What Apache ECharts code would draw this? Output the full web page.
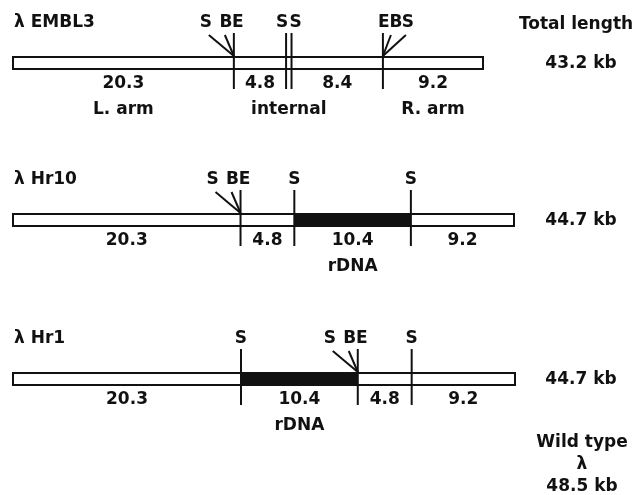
<!DOCTYPE html>
<html><head><meta charset="utf-8">
<script src="https://cdn.jsdelivr.net/npm/echarts@6/dist/echarts.min.js"></script>
<style>html,body{margin:0;padding:0;background:#fff}#c{width:636px;height:495px}</style>
</head><body><div id="c"></div>
<script>
// ---- data ----
const rowNames = ['λ EMBL3', 'λ Hr10', 'λ Hr1'];
const totalLabels = ['43.2 kb', '44.7 kb', '44.7 kb'];
const headerLabel = 'Total length';
const wildTypeLabels = ['Wild type', 'λ', '48.5 kb'];

const emblSegs = [20.3, 4.8, 0.5, 8.4, 9.2];
const hr10Segs = [20.3, 4.8, 10.4, 9.2];
const hr1Segs = [20.3, 10.4, 4.8, 9.2];

const emblKinds = ['lambda', 'lambda', 'gap', 'lambda', 'lambda'];
const hr10Kinds = ['lambda', 'lambda', 'rDNA', 'lambda'];
const hr1Kinds = ['lambda', 'rDNA', 'lambda', 'lambda'];

const emblSubLabels = ['L. arm', '', 'internal', '', 'R. arm'];
const hr10SubLabels = ['', '', 'rDNA', ''];
const hr1SubLabels = ['', 'rDNA', '', ''];

// restriction sites at each internal segment boundary
const emblSites = ['SBE', 'S', 'S', 'EBS'];
const hr10Sites = ['SBE', 'S', 'S'];
const hr1Sites = ['S', 'SBE', 'S'];

// ---- layout ----
const rowSegs = [emblSegs, hr10Segs, hr1Segs];
const rowKinds = [emblKinds, hr10Kinds, hr1Kinds];
const rowSubs = [emblSubLabels, hr10SubLabels, hr1SubLabels];
const rowSites = [emblSites, hr10Sites, hr1Sites];
const rowCY = [63, 220, 379];
const rowW = [470, 501, 502];
const LEFT = 13;
const FONT = 'DejaVu Sans';
const FS = 17;
const INK = '#111';

function txt(x, y, s, align) {
  return { type: 'text', x: x, y: y, style: { text: s, fill: INK, font: 'bold ' + FS + 'px "' + FONT + '"', align: align || 'center', verticalAlign: 'middle' } };
}

const grids = [], xAxes = [], yAxes = [], series = [];
rowSegs.forEach((segs, i) => {
  const total = segs.reduce((a, b) => a + b, 0);
  grids.push({ left: LEFT, width: rowW[i], top: rowCY[i] - 10, height: 20 });
  xAxes.push({ gridIndex: i, type: 'value', min: 0, max: total, show: false });
  yAxes.push({ gridIndex: i, type: 'value', min: -1, max: 1, show: false });
  const cum = [0];
  segs.forEach(v => cum.push(cum[cum.length - 1] + v));
  const kinds = rowKinds[i], subs = rowSubs[i];
  // segments (fills + labels)
  series.push({
    type: 'custom', xAxisIndex: i, yAxisIndex: i, z: 2,
    data: segs.map((v, j) => [cum[j], cum[j + 1], v, j]),
    renderItem: function (params, api) {
      const j = api.value(3);
      const a = api.coord([api.value(0), 0]);
      const b = api.coord([api.value(1), 0]);
      const y = a[1];
      const ch = [{ type: 'rect', shape: { x: a[0], y: y - 6, width: b[0] - a[0], height: 12 },
        style: { fill: kinds[j] === 'rDNA' ? INK : '#fff' } }];
      const mx = (a[0] + b[0]) / 2;
      if (kinds[j] !== 'gap') ch.push(txt(mx, y + 21, api.value(2).toFixed(1)));
      if (subs[j]) ch.push(txt(mx, y + 47, subs[j]));
      return { type: 'group', children: ch };
    }
  });
  // outline
  series.push({
    type: 'custom', xAxisIndex: i, yAxisIndex: i, z: 3,
    data: [[0, total]],
    renderItem: function (params, api) {
      const a = api.coord([api.value(0), 0]);
      const b = api.coord([api.value(1), 0]);
      return { type: 'rect', shape: { x: a[0], y: a[1] - 6, width: b[0] - a[0], height: 12 },
        style: { fill: null, stroke: INK, lineWidth: 2 } };
    }
  });
  // sites
  const sites = rowSites[i];
  const sitePos = cum.slice(1, 1 + sites.length);
  series.push({
    type: 'custom', xAxisIndex: i, yAxisIndex: i, z: 4,
    data: sites.map((t, j) => [sitePos[j], j]),
    renderItem: function (params, api) {
      const j = api.value(1);
      const t = sites[j];
      const p = api.coord([api.value(0), 0]);
      const x = p[0], y = p[1];
      const ls = { stroke: INK, lineWidth: 2 };
      const ch = [{ type: 'line', shape: { x1: x, y1: y - 30, x2: x, y2: y + 26 }, style: ls }];
      const ly = y - 40;
      if (t === 'SBE') {
        ch.push({ type: 'line', shape: { x1: x - 25, y1: y - 28, x2: x, y2: y - 7 }, style: ls });
        ch.push({ type: 'line', shape: { x1: x - 9, y1: y - 28, x2: x, y2: y - 7 }, style: ls });
        ch.push(txt(x - 28, ly, 'S'), txt(x - 8, ly, 'B'), txt(x + 4, ly, 'E'));
      } else if (t === 'EBS') {
        ch.push({ type: 'line', shape: { x1: x + 23, y1: y - 28, x2: x, y2: y - 7 }, style: ls });
        ch.push({ type: 'line', shape: { x1: x + 8, y1: y - 28, x2: x, y2: y - 7 }, style: ls });
        ch.push(txt(x + 1, ly, 'E'), txt(x + 13, ly, 'B'), txt(x + 25, ly, 'S'));
      } else {
        let dx = 0;
        if (j > 0 && sites[j - 1] === 'S' && sitePos[j] - sitePos[j - 1] < 1) dx = 4;
        if (j < sites.length - 1 && sites[j + 1] === 'S' && sitePos[j + 1] - sitePos[j] < 1) dx = -4;
        ch.push(txt(x + dx, ly, 'S'));
      }
      return { type: 'group', children: ch };
    }
  });
});

const graphics = [];
rowNames.forEach((n, i) => graphics.push(txt(LEFT + 1, rowCY[i] - 40, n, 'left')));
graphics.push(txt(576, 25, headerLabel));
totalLabels.forEach((s, i) => graphics.push(txt(581, rowCY[i] + 1, s)));
wildTypeLabels.forEach((s, i) => graphics.push(txt(582, 443 + i * 22, s)));

const chart = echarts.init(document.getElementById('c'), null, { renderer: 'canvas' });
chart.setOption({
  backgroundColor: '#fff',
  animation: false,
  grid: grids, xAxis: xAxes, yAxis: yAxes, series: series,
  graphic: { elements: graphics }
});
</script></body></html>
